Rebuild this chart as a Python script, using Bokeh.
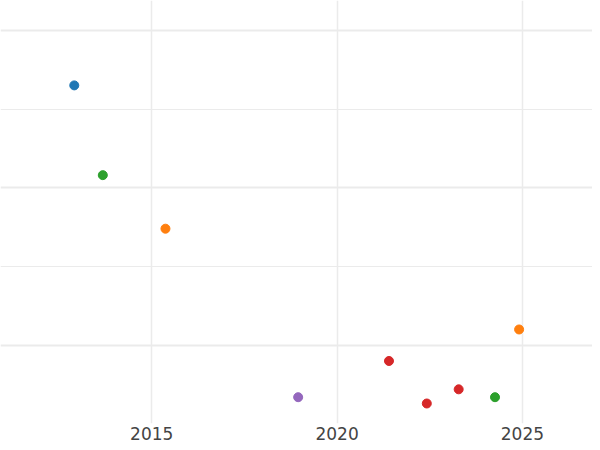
from bokeh.plotting import figure
from bokeh.models import FixedTicker, Range1d, ColumnDataSource
from bokeh.embed import file_html
from bokeh.resources import INLINE

# Data (y axis has no labels; arbitrary units)
years = [2012.91, 2013.68, 2015.37, 2024.91, 2021.40, 2018.95, 2022.42, 2023.28, 2024.26]
values = [16.5, 10.8, 7.4, 1.0, -1.0, -3.3, -3.7, -2.8, -3.3]
colors = ["#1f77b4", "#2ca02c", "#ff7f0e", "#ff7f0e", "#d62728", "#9467bd", "#d62728", "#d62728", "#2ca02c"]
x_ticks = [2015, 2020, 2025]
y_major = [0, 10, 20]
y_minor = [5, 15]

src = ColumnDataSource(dict(x=years, y=values, c=colors))

p = figure(width=592, height=442, output_backend="svg", toolbar_location=None,
           x_range=Range1d(2010.92, 2026.89), y_range=Range1d(-4.97, 21.89),
           min_border=0)
p.outline_line_color = None
p.background_fill_color = "white"
p.border_fill_color = "white"

p.yaxis.visible = False
p.ygrid.ticker = FixedTicker(ticks=y_major, minor_ticks=y_minor)
p.ygrid.grid_line_color = "#ebebeb"
p.ygrid.grid_line_width = 2
p.ygrid.minor_grid_line_color = "#ebebeb"
p.ygrid.minor_grid_line_width = 1

p.xaxis.ticker = FixedTicker(ticks=x_ticks, minor_ticks=[])
p.xgrid.ticker = FixedTicker(ticks=x_ticks, minor_ticks=[])
p.xgrid.grid_line_color = "#ebebeb"
p.xgrid.grid_line_width = 1.5
p.xaxis.axis_line_color = None
p.xaxis.major_tick_line_color = None
p.xaxis.minor_tick_line_color = None
p.xaxis.major_tick_out = 0
p.xaxis.major_tick_in = 0
p.xaxis.major_label_standoff = 3
p.xaxis.major_label_text_font = "DejaVu Sans"
p.xaxis.major_label_text_font_size = "17px"
p.xaxis.major_label_text_color = "#444444"

p.scatter("x", "y", source=src, size=9, fill_color="c", line_color="c", marker="circle")

open("out.html", "w").write(file_html(p, INLINE))
